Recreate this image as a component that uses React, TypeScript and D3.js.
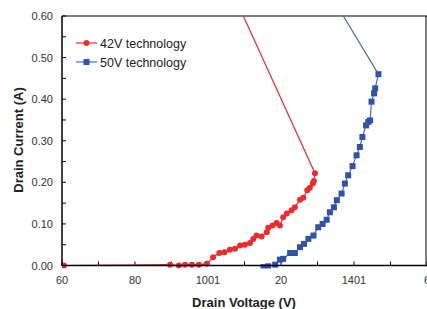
import React, { useEffect, useRef } from 'react';
import * as d3 from 'd3';

// 42V technology: [drain voltage (V), drain current (A)]
const series42V: [number, number][] = [
  [60.5, 0.0], [89.6, 0.002], [92, 0.0], [93.7, 0.002], [95.6, 0.002],
  [97.5, 0.002], [99.7, 0.004], [101.4, 0.02], [103.1, 0.03], [104.5, 0.032], [106, 0.038],
  [107.4, 0.04], [108.8, 0.048], [110.1, 0.05], [111.5, 0.054], [112.4, 0.064], [113.3, 0.072],
  [114.7, 0.07], [116.1, 0.08], [116.5, 0.091], [117.7, 0.096], [118.8, 0.102], [119.7, 0.096],
  [120.6, 0.116], [121.6, 0.125], [122.9, 0.133], [123.8, 0.14], [125.2, 0.158], [126.1, 0.163],
  [127.2, 0.181], [127.9, 0.187], [128.7, 0.197], [129, 0.203], [129.3, 0.222], [104.5, 0.7],
];

// 50V technology
const series50V: [number, number][] = [
  [115.2, -0.004], [116.5, -0.002], [118.4, 0.002], [119.7, 0.014], [120.6, 0.016], [122.5, 0.03],
  [123.8, 0.03], [125.2, 0.044], [126.3, 0.052], [127.5, 0.064], [128.9, 0.072], [130.2, 0.092],
  [131.4, 0.1], [132.5, 0.11], [133.4, 0.128], [134.5, 0.14], [135.3, 0.157], [136.6, 0.173],
  [137.5, 0.197], [138.4, 0.217], [139.6, 0.239], [140.7, 0.265], [141.6, 0.285], [142.3, 0.309],
  [143.3, 0.337], [143.9, 0.345], [144.4, 0.349], [144.8, 0.394], [145.5, 0.414], [145.8, 0.426],
  [146.7, 0.46], [130.2, 0.7],
];

const xTickValues = [60, 80, 100, 120, 140, 160];
const xTickLabels = ['60', '80', '1001', '20', '1401', '6'];
const yTickValues = [0, 0.1, 0.2, 0.3, 0.4, 0.5, 0.6];
const legendLabels = ['42V technology', '50V technology'];

const RED = '#ee2a2e';
const BLUE = '#3152a8';
const BLUE_LINE = '#4a6cc0';

const App = () => {
  const svgRef = useRef<SVGSVGElement>(null);

  useEffect(() => {
    const width = 427;
    const height = 309;
    const left = 62, right = 426, top = 16, bottom = 265.5;

    const x = d3.scaleLinear().domain([60, 160]).range([left, left + 365]);
    const y = d3.scaleLinear().domain([0, 0.6]).range([bottom, top]);

    const svg = d3.select(svgRef.current);
    svg.selectAll('*').remove();
    svg.attr('width', width).attr('height', height);

    const font = '"Liberation Sans", Arial, sans-serif';

    svg.append('defs').append('clipPath').attr('id', 'plotclip')
      .append('rect').attr('x', left).attr('y', top).attr('width', right - left).attr('height', bottom - top + 3);

    // frame
    svg.append('line').attr('x1', left).attr('x2', right + 1).attr('y1', top).attr('y2', top)
      .style('stroke', '#000').style('stroke-width', 1.2);
    svg.append('line').attr('x1', right).attr('x2', right).attr('y1', top).attr('y2', bottom)
      .style('stroke', '#000').style('stroke-width', 1);

    // y axis ticks (inward)
    const yMinor = d3.range(0, 0.6001, 0.05);
    svg.selectAll('.ytick').data(yMinor).enter().append('line')
      .attr('x1', left).attr('x2', left + 4)
      .attr('y1', d => y(d)).attr('y2', d => y(d))
      .style('stroke', '#000').style('stroke-width', 1);
    svg.selectAll('.ylab').data(yTickValues).enter().append('text')
      .attr('x', 53).attr('y', d => y(d) + 4)
      .attr('text-anchor', 'end')
      .style('font-family', font).style('font-size', '11px').style('fill', '#333')
      .text(d => d.toFixed(2));

    // x axis ticks (inward)
    const xMinor = d3.range(60, 160.01, 10);
    svg.selectAll('.xtick').data(xMinor).enter().append('line')
      .attr('x1', d => x(d)).attr('x2', d => x(d))
      .attr('y1', bottom).attr('y2', bottom - 4)
      .style('stroke', '#000').style('stroke-width', 1);
    svg.selectAll('.xlab').data(xTickValues).enter().append('text')
      .attr('x', d => x(d)).attr('y', 284)
      .attr('text-anchor', 'middle')
      .style('font-family', font).style('font-size', '11px').style('fill', '#333')
      .text((d, i) => xTickLabels[i]);

    // series
    const line = d3.line<[number, number]>().x(d => x(d[0])).y(d => y(d[1]));
    const plot = svg.append('g').attr('clip-path', 'url(#plotclip)');

    plot.append('path').datum(series42V).attr('d', line)
      .style('fill', 'none').style('stroke', RED).style('stroke-width', 1.2);
    plot.selectAll('.dot42').data(series42V).enter().append('circle')
      .attr('cx', d => x(d[0])).attr('cy', d => y(d[1])).attr('r', 3)
      .style('fill', RED);

    plot.append('path').datum(series50V).attr('d', line)
      .style('fill', 'none').style('stroke', BLUE_LINE).style('stroke-width', 1.2);
    plot.selectAll('.sq50').data(series50V).enter().append('rect')
      .attr('x', d => x(d[0]) - 3).attr('y', d => y(d[1]) - 3)
      .attr('width', 6).attr('height', 6)
      .style('fill', BLUE);

    // axes lines
    svg.append('line').attr('x1', left).attr('x2', left).attr('y1', top).attr('y2', bottom + 0.5)
      .style('stroke', '#000').style('stroke-width', 1.5);
    svg.append('line').attr('x1', left).attr('x2', right + 1).attr('y1', bottom).attr('y2', bottom)
      .style('stroke', '#000').style('stroke-width', 1.5);

    // legend
    const colors = [RED, BLUE];
    const lineColors = [RED, BLUE_LINE];
    legendLabels.forEach((label, i) => {
      const ly = 43 + i * 19;
      svg.append('line').attr('x1', 76).attr('x2', 97).attr('y1', ly).attr('y2', ly)
        .style('stroke', lineColors[i]).style('stroke-width', 1.2);
      if (i === 0) {
        svg.append('circle').attr('cx', 86.5).attr('cy', ly).attr('r', 3).style('fill', colors[i]);
      } else {
        svg.append('rect').attr('x', 83.5).attr('y', ly - 3).attr('width', 6).attr('height', 6).style('fill', colors[i]);
      }
      svg.append('text').attr('x', 100).attr('y', ly + 4.5)
        .style('font-family', font).style('font-size', '12.5px').style('fill', '#222')
        .text(label);
    });

    // axis titles
    svg.append('text').attr('x', 244).attr('y', 307)
      .attr('text-anchor', 'middle')
      .style('font-family', font).style('font-size', '13px').style('font-weight', 'bold').style('fill', '#222')
      .text('Drain Voltage (V)');
    svg.append('text')
      .attr('transform', 'translate(23,140) rotate(-90)')
      .attr('text-anchor', 'middle')
      .style('font-family', font).style('font-size', '13px').style('font-weight', 'bold').style('fill', '#222')
      .text('Drain Current (A)');
  }, []);

  return (
    <svg ref={svgRef} style={{ position: 'absolute', left: 0, top: 0 }}></svg>
  );
};

export default App;
